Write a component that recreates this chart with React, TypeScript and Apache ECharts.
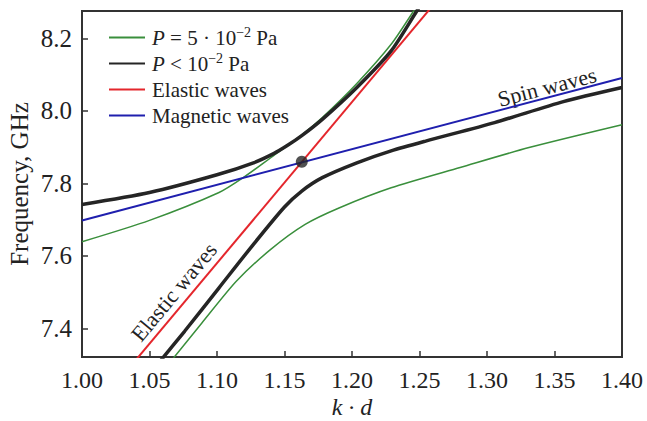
import React, { useEffect, useRef } from 'react';
import * as echarts from 'echarts';

// k·d values and frequencies (GHz)
const magneticWaves: [number, number][] = [[1.0, 7.698], [1.4, 8.091]];
const elasticWaves: [number, number][] = [[1.035, 7.291], [1.265, 8.314]];
const crossingPoint: [number, number][] = [[1.1628, 7.86]];

const blackUpper: [number, number][] = [
  [1.0, 7.742], [1.05, 7.775], [1.1, 7.824], [1.127, 7.857], [1.1423, 7.883],
  [1.1526, 7.906], [1.1628, 7.932], [1.178, 7.977], [1.2036, 8.065],
  [1.229, 8.166], [1.248, 8.276], [1.254, 8.31],
];
const blackLower: [number, number][] = [
  [1.058, 7.31], [1.076, 7.392], [1.1015, 7.512], [1.127, 7.632], [1.15, 7.735],
  [1.1628, 7.779], [1.178, 7.816], [1.2036, 7.857], [1.229, 7.89],
  [1.2546, 7.917], [1.3056, 7.968], [1.3566, 8.026], [1.4, 8.065],
];
const greenUpper: [number, number][] = [
  [1.0, 7.639], [1.05, 7.698], [1.1015, 7.775], [1.1194, 7.816], [1.1398, 7.871],
  [1.1628, 7.934], [1.178, 7.982], [1.2036, 8.076], [1.229, 8.184],
  [1.2457, 8.276], [1.252, 8.31],
];
const greenLower: [number, number][] = [
  [1.066, 7.31], [1.0888, 7.415], [1.1143, 7.53], [1.1398, 7.618], [1.1653, 7.687],
  [1.1908, 7.733], [1.229, 7.788], [1.2801, 7.844], [1.3311, 7.899], [1.4, 7.962],
];

const yTicks = [7.4, 7.6, 7.8, 8.0, 8.2];
const legendNames = ['green', 'black', 'Elastic waves', 'Magnetic waves'];

const SERIF = '"Liberation Serif", "Times New Roman", serif';
const GREEN = '#3a8f3c';
const BLACK = '#252525';
const RED = '#e4262c';
const BLUE = '#1f1fae';

export default function App() {
  const ref = useRef<HTMLDivElement>(null);
  useEffect(() => {
    if (!ref.current) return;
    const chart = echarts.init(ref.current, undefined, { renderer: 'svg' });
    const line = (name: string, data: [number, number][], color: string, width: number) => ({
      type: 'line',
      name,
      data,
      showSymbol: false,
      symbol: 'none',
      smooth: 0.25,
      lineStyle: { color, width },
      itemStyle: { color },
      clip: true,
      z: width > 3 ? 3 : 2,
    });
    chart.setOption({
      animation: false,
      textStyle: { fontFamily: SERIF },
      grid: {
        left: 82, right: 25, top: 11, bottom: 64,
        outerBoundsMode: 'none',
        containLabel: false,
        show: true, borderColor: '#333', borderWidth: 2, backgroundColor: 'transparent',
      },
      legend: {
        data: legendNames,
        orient: 'vertical',
        left: 103,
        top: 20,
        itemWidth: 36,
        itemHeight: 14,
        itemGap: 1,
        selectedMode: false,
        itemStyle: { color: 'transparent', borderWidth: 0, opacity: 0 },
        textStyle: {
          fontFamily: SERIF, fontSize: 21, color: '#222', lineHeight: 25, padding: [0, 0, 0, 2],
          rich: {
            i: { fontFamily: SERIF, fontSize: 21, fontStyle: 'italic', color: '#222', lineHeight: 25 },
            n: { fontFamily: SERIF, fontSize: 21, color: '#222', lineHeight: 25 },
            s: { fontFamily: SERIF, fontSize: 14, color: '#222', lineHeight: 16, verticalAlign: 'top' },
          },
        },
        formatter: (name: string) => {
          if (name === 'green') return '{i|P}{n| = 5 · 10}{s|−2}{n| Pa}';
          if (name === 'black') return '{i|P}{n| < 10}{s|−2}{n| Pa}';
          return name;
        },
      },
      xAxis: {
        type: 'value',
        min: 1.0,
        max: 1.4,
        interval: 0.05,
        name: 'k · d',
        nameLocation: 'middle',
        nameGap: 38,
        nameMoveOverlap: false,
        nameTextStyle: { fontFamily: SERIF, fontSize: 24, fontStyle: 'italic', color: '#222', lineHeight: 24 },
        axisLine: { show: true, lineStyle: { color: '#333', width: 2 } },
        axisTick: { show: true, inside: true, length: 6, lineStyle: { color: '#333', width: 1.5 } },
        axisLabel: {
          fontFamily: SERIF, fontSize: 24, color: '#222', margin: 11, lineHeight: 24,
          formatter: (v: number) => v.toFixed(2),
        },
        splitLine: { show: false },
      },
      yAxis: {
        type: 'value',
        min: 7.321,
        max: 8.276,
        name: 'Frequency, GHz',
        nameLocation: 'middle',
        nameGap: 50,
        nameMoveOverlap: false,
        nameTextStyle: { fontFamily: SERIF, fontSize: 25, color: '#222' },
        axisLine: { show: true, lineStyle: { color: '#333', width: 2 } },
        axisTick: { show: true, inside: true, length: 6, customValues: yTicks, lineStyle: { color: '#333', width: 1.5 } },
        axisLabel: {
          fontFamily: SERIF, fontSize: 25, color: '#222', margin: 10,
          customValues: yTicks,
          formatter: (v: number) => v.toFixed(1),
        },
        splitLine: { show: false },
      },
      series: [
        line('green', greenUpper, GREEN, 1.5),
        line('green', greenLower, GREEN, 1.5),
        line('black', blackUpper, BLACK, 3.5),
        line('black', blackLower, BLACK, 3.5),
        line('Elastic waves', elasticWaves, RED, 2),
        line('Magnetic waves', magneticWaves, BLUE, 2),
        {
          type: 'scatter',
          data: crossingPoint,
          symbolSize: 12,
          itemStyle: { color: BLACK },
          z: 5,
        },
      ],
      graphic: [
        {
          type: 'text', x: 547, y: 87, rotation: 0.255,
          style: { text: 'Spin waves', fontFamily: SERIF, fontSize: 22, fill: '#222', align: 'center', verticalAlign: 'middle' },
        },
        {
          type: 'text', x: 174, y: 292, rotation: 0.878,
          style: { text: 'Elastic waves', fontFamily: SERIF, fontSize: 22, fill: '#222', align: 'center', verticalAlign: 'middle' },
        },
      ],
    });
    return () => chart.dispose();
  }, []);
  return <div ref={ref} style={{ width: 647, height: 421, position: 'absolute', left: 0, top: 0 }} />;
}
